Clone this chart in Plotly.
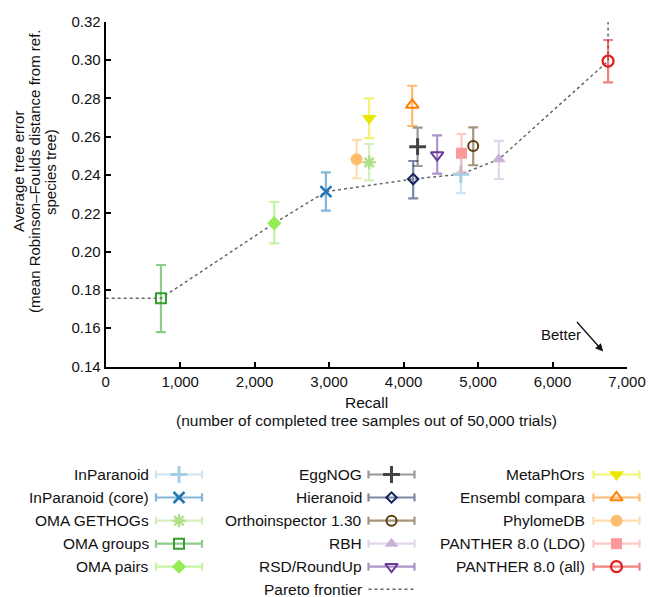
import plotly.graph_objects as go

# ---------------- data ----------------
names = ["InParanoid", "InParanoid (core)", "OMA GETHOGs", "OMA groups", "OMA pairs",
         "EggNOG", "Hieranoid", "Orthoinspector 1.30", "RBH", "RSD/RoundUp",
         "MetaPhOrs", "Ensembl compara", "PhylomeDB", "PANTHER 8.0 (LDO)", "PANTHER 8.0 (all)"]
recall = [4769, 2957, 3538, 742, 2263,
          4188, 4129, 4935, 5279, 4451,
          3538, 4116, 3369, 4778, 6746]
error = [0.2404, 0.2313, 0.2466, 0.1756, 0.2148,
         0.2548, 0.2379, 0.2551, 0.2482, 0.2504,
         0.2696, 0.2766, 0.2482, 0.2513, 0.2995]
error_hi = [0.2503, 0.2414, 0.2562, 0.1930, 0.2259,
            0.2647, 0.2473, 0.2649, 0.2578, 0.2607,
            0.2800, 0.2866, 0.2583, 0.2614, 0.3105]
error_lo = [0.2305, 0.2214, 0.2372, 0.1579, 0.2043,
            0.2447, 0.2278, 0.2451, 0.2379, 0.2407,
            0.2593, 0.2656, 0.2383, 0.2417, 0.2884]
x_ticks = [0, 1000, 2000, 3000, 4000, 5000, 6000, 7000]
y_ticks = [0.14, 0.16, 0.18, 0.20, 0.22, 0.24, 0.26, 0.28, 0.30, 0.32]
x_title = ["Recall", "(number of completed tree samples out of 50,000 trials)"]
y_title = ["Average tree error", "(mean Robinson\u2013Foulds distance from ref.", "species tree)"]

# ---------------- styles ----------------
colors = ["#a6cee3", "#1f78b4", "#b2df8a", "#33a02c", "#96ec55",
          "#444444", "#13235f", "#5e3c12", "#cab2d6", "#6a3d9a",
          "#e8e800", "#ff7f00", "#fdbf6f", "#fb9a99", "#e31a1c"]
symbols = ["cross-thin", "x-thin", "asterisk-open", "square-open", "diamond",
           "cross-thin", "diamond-open", "circle-open", "triangle-up", "triangle-down-open",
           "triangle-down", "triangle-up-open", "circle", "square", "circle-open"]
sizes = [12, 11, 11, 10, 11, 12, 8, 10, 12, 11, 13, 11, 12, 11, 11]
lwidths = [3, 2.5, 2.5, 2, 0, 3, 2, 2, 0, 2, 0, 2, 0, 0, 2.2]

def rgba(hexc, a):
    h = hexc.lstrip("#")
    return "rgba(%d,%d,%d,%.2f)" % (int(h[0:2], 16), int(h[2:4], 16), int(h[4:6], 16), a)

FONT = "Liberation Sans, Arial, Helvetica, sans-serif"
TXT = "#111111"
W, H = 648, 597
x0px, x1px, y0px, y1px = 105.7, 627.0, 366.5, 21.8

fig = go.Figure()

# Pareto frontier computed from the data
pts = sorted(zip(recall, error), key=lambda p: (-p[0], p[1]))
front = []
best = float("inf")
for r, e in pts:
    if e < best:
        front.append((r, e))
        best = e
front = sorted(front)
px = [0] + [p[0] for p in front] + [front[-1][0]]
py = [front[0][1]] + [p[1] for p in front] + [y_ticks[-1]]
fig.add_trace(go.Scatter(x=px, y=py, mode="lines", xaxis="x", yaxis="y",
                         line=dict(color="#666666", width=1.5, dash="dot"),
                         showlegend=False, hoverinfo="skip"))

for i, n in enumerate(names):
    c = colors[i]
    fig.add_trace(go.Scatter(
        x=[recall[i]], y=[error[i]], mode="markers", name=n, xaxis="x", yaxis="y",
        marker=dict(symbol=symbols[i], size=sizes[i], color=c,
                    line=dict(color=c, width=lwidths[i])),
        error_y=dict(type="data", symmetric=False,
                     array=[error_hi[i] - error[i]], arrayminus=[error[i] - error_lo[i]],
                     color=rgba(c, 0.55), thickness=2.2, width=5),
        showlegend=False))

# ---------------- legend (drawn on a pixel-space helper axis) ----------------
col_of = [0, 0, 0, 0, 0, 1, 1, 1, 1, 1, 2, 2, 2, 2, 2]
row_of = [0, 1, 2, 3, 4, 0, 1, 2, 3, 4, 0, 1, 2, 3, 4]
col_cx = [179.0, 391.5, 616.5]
col_tx = [150.5, 363.5, 587.0]
row_y = [474.5, 497.5, 520.7, 543.7, 566.7, 589.3]
half = 23
LEG_FS = 15.5

annotations = []
for i, n in enumerate(names):
    c = colors[i]
    cx = col_cx[col_of[i]]
    cy = row_y[row_of[i]]
    fig.add_trace(go.Scatter(
        x=[cx], y=[cy], mode="markers", xaxis="x2", yaxis="y2",
        marker=dict(symbol=symbols[i], size=sizes[i], color=c,
                    line=dict(color=c, width=lwidths[i])),
        error_x=dict(type="constant", value=half, color=rgba(c, 0.55), thickness=2.2, width=4),
        showlegend=False, hoverinfo="skip"))
    annotations.append(dict(x=col_tx[col_of[i]], y=cy, xref="x2", yref="y2", text=n,
                            showarrow=False, xanchor="right", yanchor="middle",
                            font=dict(family=FONT, size=LEG_FS, color=TXT)))
# Pareto frontier legend entry
fig.add_trace(go.Scatter(x=[col_cx[1] - half, col_cx[1] + half], y=[row_y[5], row_y[5]],
                         mode="lines", xaxis="x2", yaxis="y2",
                         line=dict(color="#666666", width=1.5, dash="dot"),
                         showlegend=False, hoverinfo="skip"))
annotations.append(dict(x=col_tx[1], y=row_y[5], xref="x2", yref="y2", text="Pareto frontier",
                        showarrow=False, xanchor="right", yanchor="middle",
                        font=dict(family=FONT, size=LEG_FS, color=TXT)))

# axis titles (one annotation per line for tight line spacing)
for t, yy in zip(x_title, [402, 420]):
    annotations.append(dict(x=(x0px + x1px) / 2, y=yy, xref="x2", yref="y2", text=t,
                            showarrow=False, xanchor="center", yanchor="middle",
                            font=dict(family=FONT, size=15.5, color=TXT)))
for t, xx in zip(y_title, [18, 34, 50]):
    annotations.append(dict(x=xx, y=172, xref="x2", yref="y2", text=t, textangle=-90,
                            showarrow=False, xanchor="center", yanchor="middle",
                            font=dict(family=FONT, size=15, color=TXT)))

# "Better" arrow
annotations.append(dict(x=6680, y=0.1478, xref="x", yref="y", ax=6310, ay=0.1640,
                        axref="x", ayref="y", text="", showarrow=True,
                        arrowhead=2, arrowsize=1.2, arrowwidth=1.3, arrowcolor=TXT))
annotations.append(dict(x=6110, y=0.1565, xref="x", yref="y", text="Better", showarrow=False,
                        xanchor="center", yanchor="middle",
                        font=dict(family=FONT, size=15, color=TXT)))

axis_common = dict(showgrid=False, zeroline=False, showline=True, linecolor="black",
                   linewidth=2, ticks="inside", ticklen=5, tickwidth=2, tickcolor="black",
                   tickfont=dict(family=FONT, size=15, color=TXT), automargin=False)

fig.update_layout(
    width=W, height=H,
    margin=dict(l=0, r=0, t=0, b=0),
    paper_bgcolor="white", plot_bgcolor="rgba(0,0,0,0)",
    showlegend=False,
    hovermode=False,
    xaxis=dict(domain=[x0px / W, x1px / W], range=[x_ticks[0], x_ticks[-1]],
               tickvals=x_ticks, tickformat=",d", anchor="y", **axis_common),
    yaxis=dict(domain=[(H - y0px) / H, (H - y1px) / H], range=[y_ticks[0], y_ticks[-1]],
               tickvals=y_ticks, tickformat=".2f", anchor="x", **axis_common),
    xaxis2=dict(domain=[0, 1], range=[0, W], visible=False, anchor="y2", fixedrange=True),
    yaxis2=dict(domain=[0, 1], range=[H, 0], visible=False, anchor="x2", fixedrange=True),
    annotations=annotations,
    font=dict(family=FONT, size=14, color=TXT),
)

fig.write_html("out.html", config={"displayModeBar": False},
               post_script="document.body.style.margin='0px';document.body.style.overflow='hidden';")
